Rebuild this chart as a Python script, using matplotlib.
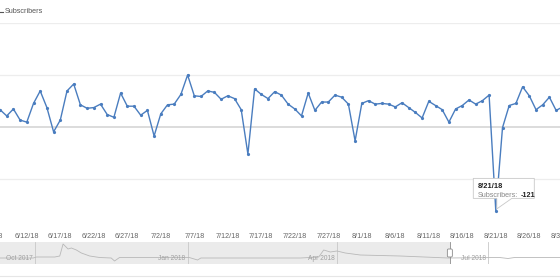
import matplotlib
matplotlib.use('Agg')
import matplotlib.pyplot as plt
import matplotlib.dates as mdates
import matplotlib.transforms as mtransforms
from matplotlib.patches import Polygon, FancyBboxPatch
from matplotlib.lines import Line2D
import pandas as pd

plt.rcParams['font.family'] = ['Liberation Sans', 'DejaVu Sans']

# --- data ---
START = '2018-06-08'
subscribers = [25, 16, 26, 10, 7, 34, 52, 28, -7, 10,
               52, 62, 32, 27, 28, 33, 18, 14, 49, 30,
               30, 17, 24, -13, 19, 32, 33, 47, 75, 45,
               44, 52, 50, 40, 45, 41, 25, -39, 55, 47,
               41, 51, 46, 33, 26, 16, 49, 24, 36, 36,
               46, 43, 33, -20, 34, 38, 33, 34, 33, 29,
               35, 28, 21, 13, 37, 31, 25, 7, 26, 31,
               39, 33, 38, 46, -121, -1, 31, 34, 58, 45,
               25, 32, 43, 24, 29]
tick_labels = ['6/7/18', '6/12/18', '6/17/18', '6/22/18', '6/27/18', '7/2/18',
               '7/7/18', '7/12/18', '7/17/18', '7/22/18', '7/27/18', '8/1/18',
               '8/6/18', '8/11/18', '8/16/18', '8/21/18', '8/26/18', '8/31/18']
y_grid = [150, 75, 0, -75]

overview_dates = ['2017-09-10', '2017-09-30', '2017-10-02', '2017-10-13', '2017-10-16',
                  '2017-10-18', '2017-10-21', '2017-10-23', '2017-10-26', '2017-10-29',
                  '2017-11-03', '2017-11-09', '2017-11-16', '2017-11-18', '2017-11-21',
                  '2018-01-02', '2018-01-07', '2018-01-09', '2018-03-10', '2018-03-21',
                  '2018-03-24', '2018-03-28', '2018-04-01', '2018-04-06', '2018-04-15',
                  '2018-05-09', '2018-06-07', '2018-07-08', '2018-07-13', '2018-07-17',
                  '2018-08-20']
overview_values = [0, 0, 1, 1, 2,
                   14, 9, 10, 8, 5,
                   2, 0.5, 0, -3, 0.5,
                   0.5, -2, 0, 0, 1,
                   8, 6, 7, 5, 3,
                   2, 0, 0.5, -0.5, 0.5,
                   0.5]
overview_months = ['Oct 2017', 'Jan 2018', 'Apr 2018', 'Jul 2018']
overview_month_starts = ['2017-10-01', '2018-01-01', '2018-04-01', '2018-07-01']

tooltip_label = '8/21/18'

LINE_BLUE = '#4a7dbf'
W, H = 560, 280

dates = pd.date_range(START, periods=len(subscribers))
xd = mdates.date2num(dates.to_pydatetime())
tick_x = mdates.date2num(pd.to_datetime(tick_labels, format='%m/%d/%y').to_pydatetime())

fig = plt.figure(figsize=(W / 100, H / 100), dpi=100)

# main chart
ax = fig.add_axes([0, 49 / H, 1, 208 / H])
ax.set_xlim(xd[0], xd[0] + W / 6.7)
ax.set_ylim(-150, 150)
for s in ax.spines.values():
    s.set_visible(False)
ax.set_xticks([])
ax.set_yticks([])

for g in y_grid:
    if g == 0:
        ax.axhline(g, color='#dcdcdc', lw=1.4, zorder=0)
    else:
        ax.axhline(g, color='#ededed', lw=0.9, zorder=0)

ax.plot(xd, subscribers, color=LINE_BLUE, lw=1.0, marker='o', markersize=2.3,
        markerfacecolor=LINE_BLUE, markeredgewidth=0, zorder=3)

bt = mtransforms.blended_transform_factory(ax.transData, ax.transAxes)
for tx, lab in zip(tick_x, tick_labels):
    ax.text(tx, -0.027, lab, transform=bt, ha='center', va='center',
            fontsize=5.2, color='#666666', clip_on=False)

# legend
fig.text(5 / W, 1 - 11.5 / H, 'Subscribers', ha='left', va='center', fontsize=5.2, color='#555555')
fig.add_artist(Line2D([-2 / W, 3 / W], [1 - 11.5 / H] * 2, color='#555555', lw=0.8))

# tooltip at the dip
i_tip = list(xd).index(tick_x[tick_labels.index(tooltip_label)])
tip_x = xd[i_tip]
tip_y = subscribers[i_tip]
tr = fig.dpi_scale_trans + mtransforms.ScaledTranslation(tip_x, tip_y, ax.transData)
box = [(-22.5, 12.5), (1, 12.5), (1, 2), (16, 12.5), (38.5, 12.5), (38.5, 32.5), (-22.5, 32.5)]
ax.add_patch(Polygon([(px / 100, py / 100) for px, py in box], closed=True, transform=tr,
                     facecolor='white', edgecolor='#c8c8c8', lw=0.6, zorder=5, clip_on=False))
ax.text(-18 / 100, 24 / 100, tooltip_label, transform=tr, ha='left', va='center',
        fontsize=5.4, color='#222222', fontweight='bold', zorder=6)
subs_txt = ax.text(-18 / 100, 15.5 / 100, 'Subscribers:', transform=tr, ha='left', va='center',
                   fontsize=5.2, color='#888888', zorder=6)
ax.annotate(str(tip_y), xy=(1, 0.5), xycoords=subs_txt, xytext=(2, 0),
            textcoords='offset points', ha='left', va='center',
            fontsize=5.2, color='#222222', fontweight='bold', zorder=6)

# overview strip
ax2 = fig.add_axes([0, 16 / H, 1, 22 / H])
ov_x = mdates.date2num(pd.to_datetime(overview_dates).to_pydatetime())
ov_left = ov_x[0]
ax2.set_xlim(ov_left, ov_left + W / 1.66)
ax2.set_ylim(-6, 16)
for s in ax2.spines.values():
    s.set_visible(False)
ax2.set_xticks([])
ax2.set_yticks([])
ax2.axvspan(ov_left, xd[0], color='#ebebeb', lw=0, zorder=0)
ax2.plot(ov_x, overview_values, color='#b8b8b8', lw=0.6, zorder=2)

month_x = mdates.date2num(pd.to_datetime(overview_month_starts).to_pydatetime())
lab_tr = mtransforms.offset_copy(ax2.transData, fig=fig, x=-2, y=0, units='dots')
for mx, lab in zip(month_x, overview_months):
    ax2.axvline(mx, color='#c8c8c8', lw=0.6, zorder=1)
    ax2.text(mx, -1, lab, transform=lab_tr, ha='right', va='center',
             fontsize=4.8, color='#a0a0a0', zorder=3)

ax2.axvline(xd[0], color='#8a8a8a', lw=0.6, zorder=3)
htr = fig.dpi_scale_trans + mtransforms.ScaledTranslation(xd[0], 0, ax2.transData)
ax2.add_patch(FancyBboxPatch((-2.5 / 100, 1 / 100), 5 / 100, 8 / 100,
                             boxstyle='round,pad=0,rounding_size=0.012', transform=htr,
                             facecolor='white', edgecolor='#8a8a8a', lw=0.6, zorder=4, clip_on=False))

fig.add_artist(Line2D([0, 1], [4 / H, 4 / H], color='#e6e6e6', lw=0.8))

fig.savefig('out.png', dpi=100)
